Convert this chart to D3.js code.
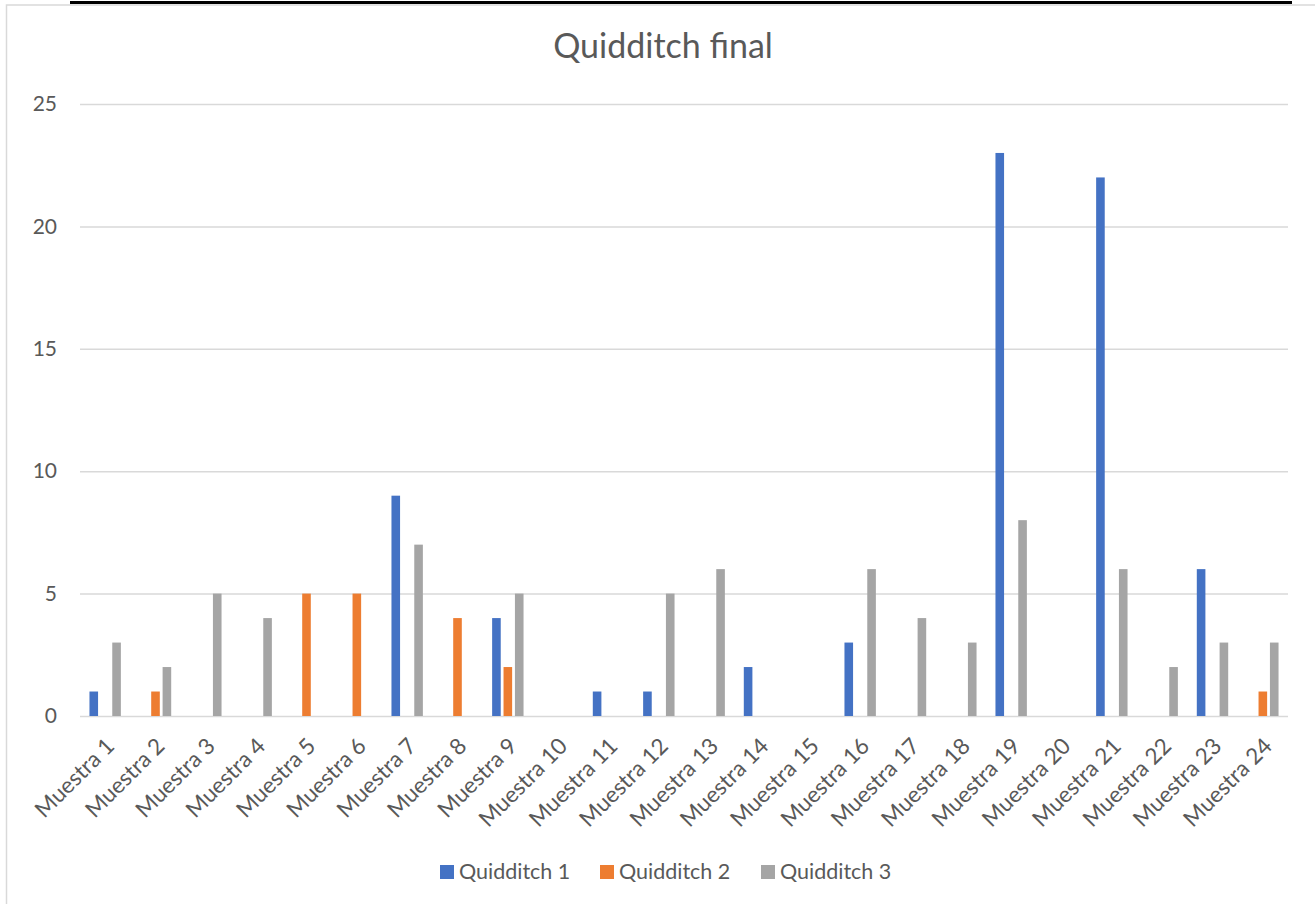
<!DOCTYPE html>
<html>
<head>
<meta charset="utf-8">
<script src="https://cdn.jsdelivr.net/npm/d3@7"></script>
<style>
  html, body { margin: 0; padding: 0; background: #fff; }
  svg { display: block; font-family: Lato, "Open Sans", sans-serif; }
</style>
</head>
<body>
<svg id="chart" width="1315" height="904"></svg>
<script>
const categories = ["Muestra 1","Muestra 2","Muestra 3","Muestra 4","Muestra 5","Muestra 6","Muestra 7","Muestra 8","Muestra 9","Muestra 10","Muestra 11","Muestra 12","Muestra 13","Muestra 14","Muestra 15","Muestra 16","Muestra 17","Muestra 18","Muestra 19","Muestra 20","Muestra 21","Muestra 22","Muestra 23","Muestra 24"];
const seriesNames = ["Quidditch 1","Quidditch 2","Quidditch 3"];
const quidditch1 = [1,0,0,0,0,0,9,0,4,0,1,1,0,2,0,3,0,0,23,0,22,0,6,0];
const quidditch2 = [0,1,0,0,5,5,0,4,2,0,0,0,0,0,0,0,0,0,0,0,0,0,0,1];
const quidditch3 = [3,2,5,4,0,0,7,0,5,0,0,5,6,0,0,6,4,3,8,0,6,2,3,3];
const yTicks = [0,5,10,15,20,25];
const colors = ["#4472C4","#ED7D31","#A5A5A5"];
const title = "Quidditch final";

const seriesData = [quidditch1, quidditch2, quidditch3];

const svg = d3.select("#chart");
const W = 1315, H = 904;
const plot = {left: 80, right: 1288, top: 104, bottom: 716};
const FONT = "Lato, 'Open Sans', sans-serif";

// outer frame
svg.append("rect").attr("x", 0).attr("y", 0).attr("width", W).attr("height", H).attr("fill", "#fff");
svg.append("line").attr("x1", 70).attr("x2", 1292).attr("y1", 2.5).attr("y2", 2.5)
  .attr("stroke", "#000").attr("stroke-width", 3);
svg.append("path").attr("d", `M6.5,${H} V5 H${W}`).attr("fill", "none")
  .attr("stroke", "#d9d9d9").attr("stroke-width", 1.5);

const x = d3.scaleBand().domain(categories).range([plot.left, plot.right]);
const y = d3.scaleLinear().domain([0, 25]).range([plot.bottom, plot.top]);
const barW = 8.6, step = 11.4;

// gridlines
svg.append("g").selectAll("line").data(yTicks).join("line")
  .attr("x1", plot.left).attr("x2", plot.right)
  .attr("y1", d => y(d) + 0.5).attr("y2", d => y(d) + 0.5)
  .attr("stroke", "#d9d9d9").attr("stroke-width", 1.5);

// y axis labels
const yAxis = d3.axisLeft(y).tickValues(yTicks).tickSize(0).tickPadding(0);
const yg = svg.append("g").attr("transform", `translate(${57},0)`).call(yAxis);
yg.select(".domain").remove();
yg.selectAll("text").attr("font-size", 21).attr("fill", "#595959").attr("font-family", FONT);

// bars
seriesData.forEach((vals, si) => {
  svg.append("g").selectAll("rect").data(vals.map((v, i) => ({v, c: categories[i]})).filter(d => d.v > 0)).join("rect")
    .attr("x", d => x(d.c) + x.bandwidth() / 2 + (si - 1) * step - barW / 2)
    .attr("width", barW)
    .attr("y", d => y(d.v))
    .attr("height", d => y(0) - y(d.v))
    .attr("fill", colors[si]);
});

// x labels
const xAxis = d3.axisBottom(x).tickSize(0).tickPadding(0);
const xg = svg.append("g").attr("transform", `translate(0,${plot.bottom})`).call(xAxis);
xg.select(".domain").remove();
xg.selectAll("text")
  .attr("font-size", 22.5).attr("fill", "#595959").attr("font-family", FONT)
  .attr("text-anchor", "end")
  .attr("dy", "0.35em")
  .attr("transform", "translate(5,26) rotate(-45)");

// title
svg.append("text").attr("x", 663).attr("y", 58).attr("text-anchor", "middle")
  .attr("font-size", 34).attr("fill", "#595959").attr("font-family", FONT).text(title);

// legend
const legendX = [440, 600, 761];
const lg = svg.append("g");
seriesNames.forEach((n, i) => {
  lg.append("rect").attr("x", legendX[i]).attr("y", 865).attr("width", 14).attr("height", 14).attr("fill", colors[i]);
  lg.append("text").attr("x", legendX[i] + 19).attr("y", 879).attr("font-size", 21.5).attr("fill", "#595959").attr("font-family", FONT).text(n);
});
</script>
</body>
</html>
